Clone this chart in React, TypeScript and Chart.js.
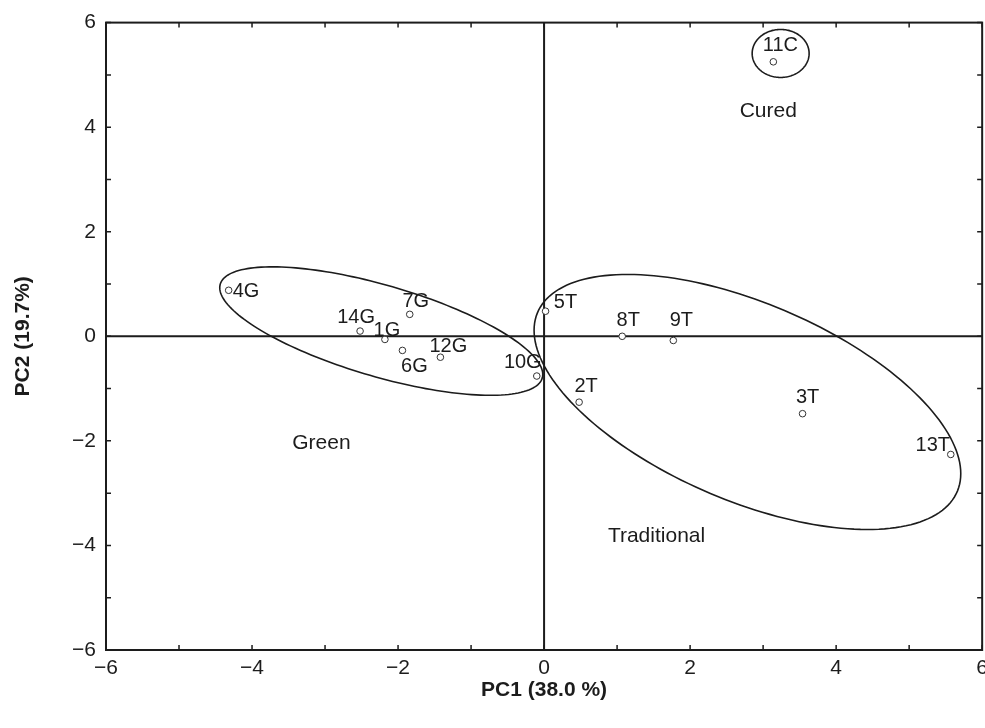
import React, { useEffect, useRef } from "react";
import { Chart, registerables } from "chart.js";

Chart.register(...registerables);

// Sample scores
const sampleLabels = ["4G", "14G", "1G", "7G", "6G", "12G", "10G", "5T", "8T", "9T", "2T", "3T", "13T", "11C"];
const pc1Scores = [-4.32, -2.52, -2.18, -1.84, -1.94, -1.42, -0.1, 0.02, 1.07, 1.77, 0.48, 3.54, 5.57, 3.14];
const pc2Scores = [0.88, 0.1, -0.06, 0.42, -0.27, -0.4, -0.76, 0.48, 0.0, -0.08, -1.26, -1.48, -2.26, 5.25];

// label offsets in pixels (style)
const labelDx = [4, -4, 2, 6, 12, 8, -14, 20, 6, 8, 7, 5, -18, 7];
const labelDy = [1, -14, -9, -13, 16, -11, -14, -9, -16, -20, -16, -16, -9, -16];
const labelAlign = ["left", "center", "center", "center", "center", "center", "center", "center", "center", "center", "center", "center", "center", "center"];

// Groups (ellipses): centre and conjugate semi-axis vectors in data units
const groupNames = ["Cured", "Green", "Traditional"];
const groupLabelX = [3.07, -3.05, 1.54];
const groupLabelY = [4.3, -2.04, -3.82];
const ellipseCx = [3.24, -2.23, 2.785];
const ellipseCy = [5.41, 0.1, -1.256];
const ellipseUx = [0.39, 2.212, 2.922];
const ellipseUy = [0, -0.829, -1.37];
const ellipseVx = [0, 0, 0];
const ellipseVy = [0.459, 0.907, 2.018];

const axisMin = -6;
const axisMax = 6;
const xTitle = "PC1 (38.0 %)";
const yTitle = "PC2 (19.7%)";

const FONT = '"Liberation Sans", Arial, Helvetica, sans-serif';
const INK = "#1c1c1c";

const fmt = (v: number) => (v % 2 !== 0 ? "" : v < 0 ? "\u2212" + Math.abs(v) : String(v));

const framePlugin = {
  id: "frame",
  beforeDatasetsDraw(chart: any) {
    const { ctx, chartArea: a, scales } = chart;
    const xs = scales.x, ys = scales.y;
    ctx.save();
    // ellipses
    ctx.strokeStyle = INK;
    ctx.lineWidth = 1.6;
    for (let g = 0; g < groupNames.length; g++) {
      ctx.beginPath();
      const n = 180;
      for (let i = 0; i <= n; i++) {
        const t = (i / n) * Math.PI * 2;
        const dx = ellipseCx[g] + ellipseUx[g] * Math.cos(t) + ellipseVx[g] * Math.sin(t);
        const dy = ellipseCy[g] + ellipseUy[g] * Math.cos(t) + ellipseVy[g] * Math.sin(t);
        const px = xs.getPixelForValue(dx), py = ys.getPixelForValue(dy);
        if (i === 0) ctx.moveTo(px, py); else ctx.lineTo(px, py);
      }
      ctx.closePath();
      ctx.stroke();
    }
    // zero lines
    ctx.lineWidth = 2;
    const x0 = xs.getPixelForValue(0), y0 = ys.getPixelForValue(0);
    ctx.beginPath();
    ctx.moveTo(a.left, y0); ctx.lineTo(a.right, y0);
    ctx.moveTo(x0, a.top); ctx.lineTo(x0, a.bottom);
    ctx.stroke();
    // box
    ctx.strokeRect(a.left, a.top, a.right - a.left, a.bottom - a.top);
    // inward ticks
    ctx.lineWidth = 1.5;
    const tl = 5;
    ctx.beginPath();
    xs.ticks.forEach((t: any) => {
      const p = xs.getPixelForValue(t.value);
      ctx.moveTo(p, a.bottom); ctx.lineTo(p, a.bottom - tl);
      ctx.moveTo(p, a.top); ctx.lineTo(p, a.top + tl);
    });
    ys.ticks.forEach((t: any) => {
      const p = ys.getPixelForValue(t.value);
      ctx.moveTo(a.left, p); ctx.lineTo(a.left + tl, p);
      ctx.moveTo(a.right, p); ctx.lineTo(a.right - tl, p);
    });
    ctx.stroke();
    // group labels
    ctx.fillStyle = INK;
    ctx.font = `21px ${FONT}`;
    ctx.textAlign = "center";
    ctx.textBaseline = "middle";
    groupNames.forEach((nm, g) => {
      ctx.fillText(nm, xs.getPixelForValue(groupLabelX[g]), ys.getPixelForValue(groupLabelY[g]));
    });
    ctx.restore();
  },
  afterDatasetsDraw(chart: any) {
    const { ctx, scales } = chart;
    ctx.save();
    ctx.fillStyle = INK;
    ctx.font = `20px ${FONT}`;
    ctx.textBaseline = "middle";
    sampleLabels.forEach((lb, i) => {
      ctx.textAlign = labelAlign[i];
      const px = scales.x.getPixelForValue(pc1Scores[i]) + labelDx[i];
      const py = scales.y.getPixelForValue(pc2Scores[i]) + labelDy[i];
      ctx.fillText(lb, px, py);
    });
    ctx.restore();
  },
};

export default function App() {
  const ref = useRef<HTMLCanvasElement | null>(null);
  useEffect(() => {
    if (!ref.current) return;
    const chart = new Chart(ref.current, {
      type: "scatter",
      data: {
        datasets: [
          {
            data: pc1Scores.map((x, i) => ({ x, y: pc2Scores[i] })),
            pointRadius: 3.3,
            pointBackgroundColor: "#ffffff",
            pointBorderColor: "#333333",
            pointBorderWidth: 1,
          },
        ],
      },
      options: {
        animation: false,
        responsive: false,
        devicePixelRatio: 1,
        layout: { padding: { top: 22, right: 0, left: 0, bottom: 0 } },
        plugins: { legend: { display: false }, tooltip: { enabled: false } },
        scales: {
          x: {
            type: "linear",
            min: axisMin,
            max: axisMax,
            grid: { display: false, drawTicks: false },
            border: { display: false },
            ticks: { stepSize: 1, autoSkip: false, maxRotation: 0, padding: 6, color: INK, font: { family: FONT, size: 21 }, callback: (v: any) => fmt(Number(v)) },
            title: { display: true, text: xTitle, color: INK, font: { family: FONT, size: 21, weight: "bold" }, padding: { top: 0, bottom: 25 } },
            afterFit: (s: any) => { s.height = 78; },
          },
          y: {
            type: "linear",
            min: axisMin,
            max: axisMax,
            grid: { display: false, drawTicks: false },
            border: { display: false },
            ticks: { stepSize: 1, autoSkip: false, padding: 10, color: INK, font: { family: FONT, size: 21 }, callback: (v: any) => fmt(Number(v)) },
            title: { display: true, text: yTitle, color: INK, font: { family: FONT, size: 21, weight: "bold" }, padding: { top: 11, bottom: 0 } },
            afterFit: (s: any) => { s.width = 106; },
          },
        },
      },
      plugins: [framePlugin],
    });
    return () => chart.destroy();
  }, []);
  return (
    <div style={{ position: "fixed", left: 0, top: 0, width: 994, height: 728, background: "#fff" }}>
      <canvas ref={ref} width={994} height={728} />
    </div>
  );
}
